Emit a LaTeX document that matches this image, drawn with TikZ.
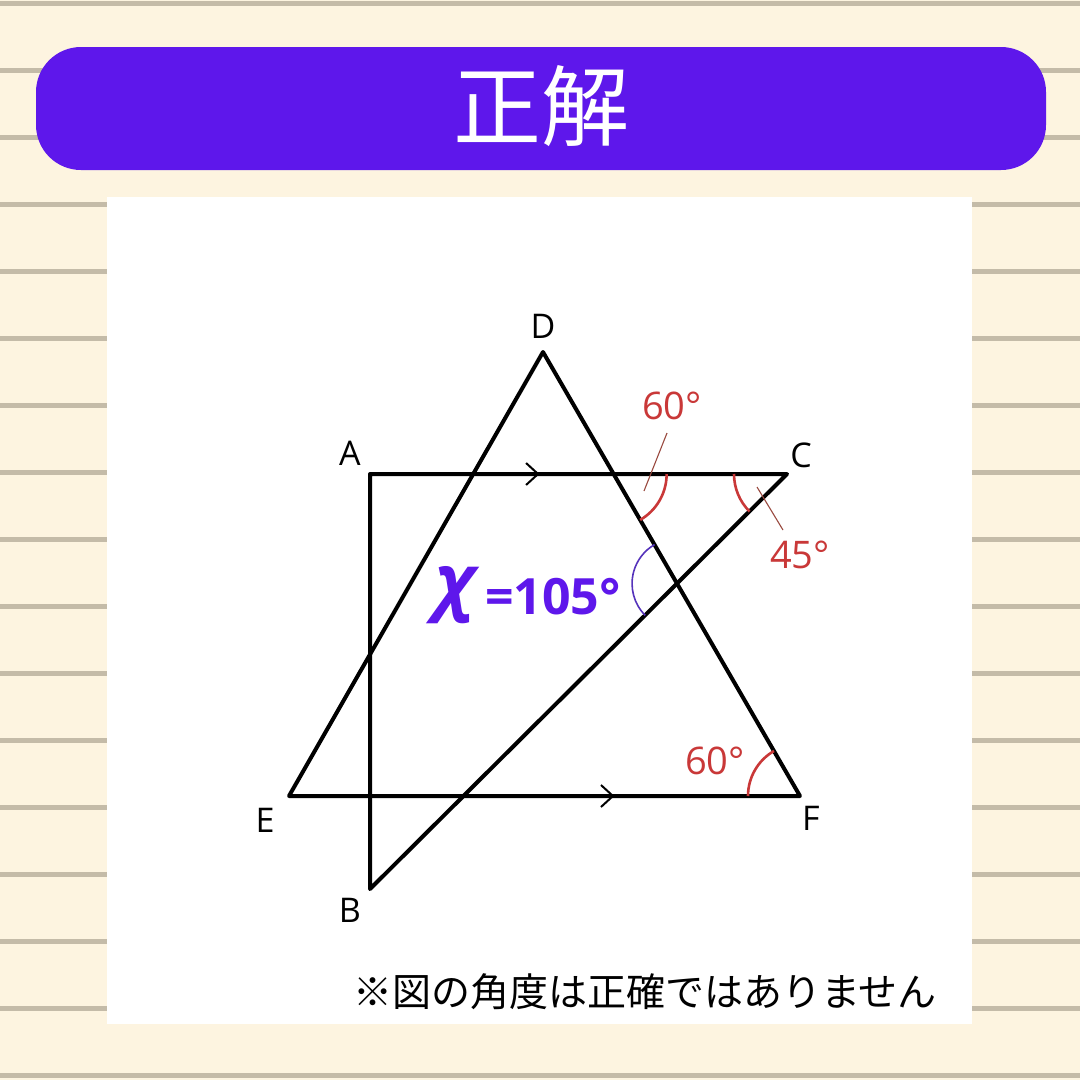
\documentclass[tikz,border=0pt]{standalone}
\usepackage{fontspec}
\setmainfont{Open Sans}
\newfontfamily\jpfont{Noto Sans CJK JP}
\usepackage{xcolor}
\usetikzlibrary{calc}

\definecolor{paper}{HTML}{FDF4E0}
\definecolor{rule}{HTML}{C4BBA8}
\definecolor{banner}{HTML}{5E17EB}
\definecolor{anglered}{HTML}{C93838}
\definecolor{leader}{HTML}{9A4A40}
\definecolor{xarc}{HTML}{5533BB}

\tikzset{
	edge/.style={line width=4, line cap=round, line join=round},
	chev/.style={line width=2},
	redarc/.style={anglered, line width=2.6},
	leadline/.style={leader, line width=1.1},
	ptlabel/.style={font=\fontsize{34}{34}\selectfont},
	deglabel/.style={text=anglered, font=\fontsize{38}{38}\selectfont}
}

\begin{document}
\begin{tikzpicture}[x=1pt,y=1pt,yscale=-1]
	\useasboundingbox (0,0) rectangle (1080,1080);
	
	%Shape: Background [id:paper]
	\fill[paper] (0,0) rectangle (1080,1080);
	%Straight Lines [id:rules]
	\foreach \ry in {3,70,...,1075}
		\draw[rule, line width=5] (0,\ry) -- (1080,\ry);
	%Shape: Rounded Rectangle [id:banner]
	\fill[banner, rounded corners=45] (36,47) rectangle (1046,170);
	%Shape: Rectangle [id:panel]
	\fill[white] (107,197) rectangle (972,1024);
	
	% Text Node
	\node[text=white, font=\jpfont\fontsize{88}{88}\selectfont] (title) at (541,106) {正解};
	
	% Points
	\coordinate (D) at (543,352);
	\coordinate (A) at (370,474);
	\coordinate (C) at (787,474);
	\coordinate (E) at (289,796);
	\coordinate (F) at (800,796);
	\coordinate (B) at (370,889);
	\coordinate (P) at (intersection of D--F and A--C);
	\coordinate (Q) at (intersection of D--F and B--C);
	
	%Straight Lines [id:figure]
	\draw[edge] (A) -- (C) -- (B) -- cycle;
	\draw[edge] (D) -- (E) -- (F) -- cycle;
	
	%Parallel marks
	\draw[chev] ($(A)!0.403!(C)$) ++(-12,-11) -- ++(12,11) -- ++(-12,11);
	\draw[chev] ($(E)!0.634!(F)$) ++(-12,-11) -- ++(12,11) -- ++(-12,11);
	
	%Angle arcs
	\draw[redarc] ($(P)+(53,0)$) arc[start angle=0, end angle=60, radius=53];
	\draw[redarc] ($(C)+(135:53)$) arc[start angle=135, end angle=180, radius=53];
	\draw[redarc] ($(F)+(-52,0)$) arc[start angle=180, end angle=240, radius=52];
	\draw[xarc, line width=1.6] ($(Q)+(135:45)$) arc[start angle=135, end angle=240, radius=45];
	
	%Leader lines
	\coordinate (l1a) at (667,433);
	\coordinate (l1b) at (644,491);
	\coordinate (l2a) at (757,487);
	\coordinate (l2b) at (783,530);
	\draw[leadline] (l1a) -- (l1b);
	\draw[leadline] (l2a) -- (l2b);
	
	% Text Node
	\node[ptlabel] (labD) at (543,326) {D};
	\node[ptlabel] (labA) at (350,453) {A};
	\node[ptlabel] (labC) at (801,455) {C};
	\node[ptlabel] (labE) at (265,820) {E};
	\node[ptlabel] (labF) at (811,818) {F};
	\node[ptlabel] (labB) at (350,910) {B};
	
	% Text Node
	\node[deglabel] (deg1) at (672,406) {60°};
	\node[deglabel] (deg2) at (800,555) {45°};
	\node[deglabel] (deg3) at (715,761) {60°};
	
	% Text Node
	\node[text=banner, font=\bfseries\itshape\fontsize{72}{72}\selectfont] (xsym) at (455,595) {χ};
	\node[text=banner, font=\bfseries\fontsize{50}{50}\selectfont] (xval) at (553,597) {=105°};
	
	% Text Node
	\node[font=\jpfont\fontsize{39}{39}\selectfont] (note) at (645,992) {※図の角度は正確ではありません};
\end{tikzpicture}
\end{document}
